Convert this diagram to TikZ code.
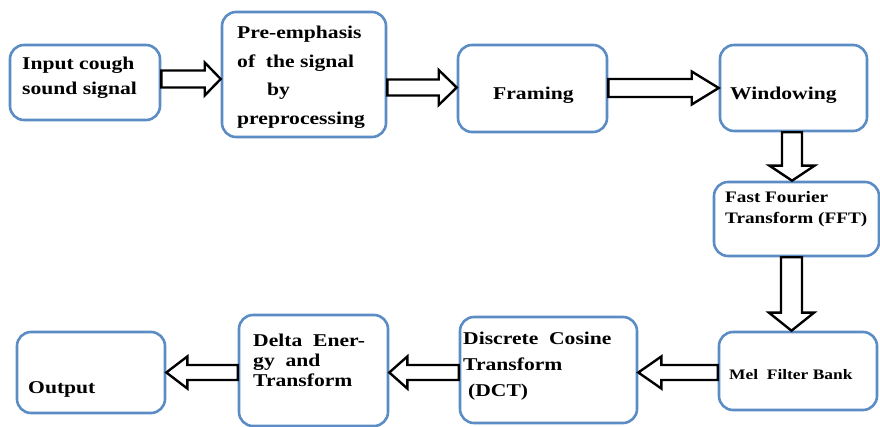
\documentclass[tikz,border=0pt]{standalone}
\usepackage{fontspec}
\setmainfont[FakeStretch=1.2]{Liberation Serif}
\usetikzlibrary{calc}

\definecolor{boxblue}{RGB}{92,140,196}
\newcommand{\txtsize}[2]{\bfseries\fontsize{#1}{#2}\selectfont}

\tikzset{
  stage/.style={draw=boxblue, line width=2.6pt, rounded corners=14pt, inner sep=0pt},
  txt/.style={anchor=north west, inner sep=0pt, align=left, text=black},
  % hollow block arrow: shaft half width, head half width, head length
  hollow/.style n args={3}{draw=black, fill=white, line width=2.4pt, line join=miter,
    to path={
      ($(\tikztostart)!#1!90:(\tikztotarget)$)
      -- ($(\tikztotarget)!#3!(\tikztostart)!#1!90:(\tikztotarget)$)
      -- ($(\tikztotarget)!#3!(\tikztostart)!#2!90:(\tikztotarget)$)
      -- (\tikztotarget)
      -- ($(\tikztotarget)!#3!(\tikztostart)!#2!-90:(\tikztotarget)$)
      -- ($(\tikztotarget)!#3!(\tikztostart)!#1!-90:(\tikztotarget)$)
      -- ($(\tikztostart)!#1!-90:(\tikztotarget)$)
      -- cycle}},
}

\begin{document}
\begin{tikzpicture}[x=1pt, y=-1pt]
    \fill[white] (0,0) rectangle (880,427);
    \useasboundingbox (0,0) rectangle (880,427);

    % Define nodes
    \node[stage, minimum width=150, minimum height=75]  (input)     at (85,82.5)   {};
    \node[stage, minimum width=164, minimum height=125] (preemph)   at (304,74.5)  {};
    \node[stage, minimum width=149, minimum height=87]  (framing)   at (532.5,88.5) {};
    \node[stage, minimum width=147, minimum height=86]  (windowing) at (793.5,88)  {};
    \node[stage, minimum width=165, minimum height=74]  (fft)       at (796.5,219) {};
    \node[stage, minimum width=158, minimum height=78]  (mel)       at (798,371)   {};
    \node[stage, minimum width=177, minimum height=106] (dct)       at (548.5,370) {};
    \node[stage, minimum width=149, minimum height=111] (delta)     at (313.5,370.5) {};
    \node[stage, minimum width=148, minimum height=81]  (output)    at (91,372.5)  {};

    % Texts in the boxes
    \node[txt, font=\txtsize{18}{25}]   (input-t)     at (22,57)   {Input cough\\sound signal};
    \node[txt, font=\txtsize{18}{28.5}] (preemph-t)   at (237,26)  {Pre-emphasis\\of \ the signal\\\hspace*{30pt}by\\preprocessing};
    \node[txt, font=\txtsize{18}{25}]   (framing-t)   at (493,87)  {Framing};
    \node[txt, font=\txtsize{18}{25}]   (windowing-t) at (730,87)  {Windowing};
    \node[txt, font=\txtsize{16}{21}]   (fft-t)       at (725,191.5) {Fast Fourier\\Transform (FFT)};
    \node[txt, font=\txtsize{14.5}{20}] (mel-t)       at (729,369) {Mel \ Filter Bank};
    \node[txt, font=\txtsize{18}{26}]   (dct-t)       at (463,332) {Discrete \ Cosine\\Transform\\\hspace*{5pt}(DCT)};
    \node[txt, font=\txtsize{18}{20}]   (delta-t)     at (253,334) {Delta \ Ener-\\gy \ and\\Transform};
    \node[txt, font=\txtsize{18}{25}]   (output-t)    at (28,381)  {Output};

    % Connect the nodes
    \draw[hollow={8.5pt}{16.5pt}{16pt}]  (input.east |- 0,79)       to (preemph.west |- 0,79);
    \draw[hollow={8pt}{17.5pt}{18pt}]    (preemph.east |- 0,87.5)   to (framing.west |- 0,87.5);
    \draw[hollow={9pt}{16.5pt}{27pt}]    (framing.east |- 0,88)     to (windowing.west |- 0,88);
    \draw[hollow={10pt}{22.5pt}{15pt}]   (windowing.south -| 792,0) to (fft.north -| 792,0);
    \draw[hollow={10.5pt}{22.5pt}{18pt}] (fft.south -| 791.5,0)     to (mel.north -| 791.5,0);
    \draw[hollow={7.5pt}{16pt}{23pt}]    (mel.west |- 0,372.5)      to (dct.east |- 0,372.5);
    \draw[hollow={7.5pt}{16pt}{18pt}]    (dct.west |- 0,372.5)      to (delta.east |- 0,372.5);
    \draw[hollow={7.5pt}{16pt}{21pt}]    (delta.west |- 0,372.5)    to (output.east |- 0,372.5);
\end{tikzpicture}
\end{document}
